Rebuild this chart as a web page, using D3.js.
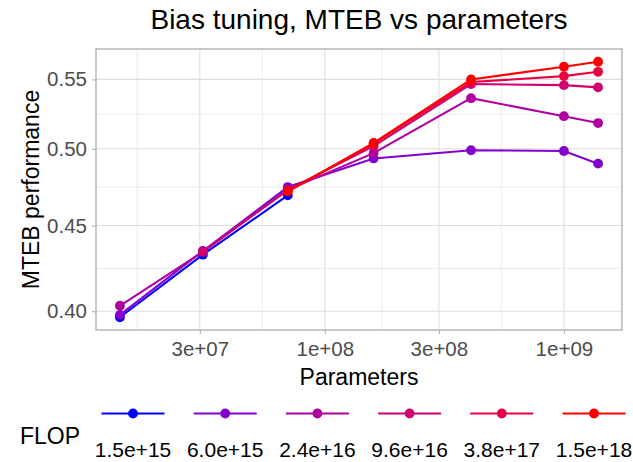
<!DOCTYPE html>
<html>
<head>
<meta charset="utf-8">
<script src="https://cdn.jsdelivr.net/npm/d3@7"></script>
<style>
  body { margin: 0; background: #fff; }
  text { font-family: "Liberation Sans", Arial, sans-serif; }
</style>
</head>
<body>
<svg id="chart" width="633" height="462"></svg>
<script>
// model sizes (parameters) used in the sweep
const params = [1.39e7, 3.09e7, 7.0e7, 1.6e8, 4.09e8, 1.0e9, 1.39e9];

// FLOP budgets, one line each
const flopLabels = ["1.5e+15", "6.0e+15", "2.4e+16", "9.6e+16", "3.8e+17", "1.5e+18"];

// MTEB score per budget, null where that size was not trained
const perf15e15 = [0.3967, 0.4323, 0.469, null, null, null, null];
const perf6e15 = [0.398, 0.4345, 0.4744, 0.4934, 0.499, 0.4985, 0.4899];
const perf24e16 = [0.403, 0.434, 0.4726, 0.497, 0.536, 0.5229, 0.518];
const perf96e16 = [null, 0.434, 0.4726, 0.5018, 0.5465, 0.5457, 0.544];
const perf38e17 = [null, null, 0.4718, 0.5035, 0.548, 0.5525, 0.5558];
const perf15e18 = [null, null, 0.4714, 0.504, 0.55, 0.5597, 0.5635];

const xTicks = [3e7, 1e8, 3e8, 1e9];
const xTickLabels = ["3e+07", "1e+08", "3e+08", "1e+09"];
const yTicks = [0.40, 0.45, 0.50, 0.55];

const seriesValues = [perf15e15, perf6e15, perf24e16, perf96e16, perf38e17, perf15e18];

const svg = d3.select("#chart"),
  width = +svg.attr("width"),
  height = +svg.attr("height");

const margin = { top: 49, right: 11, bottom: 132, left: 96 };
const pw = width - margin.left - margin.right,
  ph = height - margin.top - margin.bottom;

const series = flopLabels.map((label, i) => ({
  label,
  points: params
    .map((p, j) => ({ x: p, y: seriesValues[i][j] }))
    .filter((d) => d.y != null),
}));

const allPts = series.flatMap((s) => s.points);

// ggplot-like 5% expansion in log space
function expandLog(ext) {
  const a = Math.log(ext[0]), b = Math.log(ext[1]);
  const pad = (b - a) * 0.05;
  return [Math.exp(a - pad), Math.exp(b + pad)];
}

const xScale = d3.scaleLog()
  .domain(expandLog(d3.extent(allPts, (d) => d.x)))
  .range([0, pw]);

const yScale = d3.scaleLog()
  .domain(expandLog(d3.extent(allPts, (d) => d.y)))
  .range([ph, 0]);

// minor breaks: midpoints between majors in log space, plus one step outside
function minorBreaks(ticks) {
  const lt = ticks.map(Math.log);
  const m = [];
  m.push(Math.exp(lt[0] - (lt[1] - lt[0]) / 2));
  for (let i = 0; i < lt.length - 1; i++) m.push(Math.exp((lt[i] + lt[i + 1]) / 2));
  const n = lt.length;
  m.push(Math.exp(lt[n - 1] + (lt[n - 1] - lt[n - 2]) / 2));
  return m;
}

const color = d3.scaleSequential()
  .domain([0, flopLabels.length - 1])
  .interpolator(d3.interpolateLab("#0000FF", "#FF0000"));

const g = svg.append("g").attr("transform", `translate(${margin.left},${margin.top})`);

const inX = (v) => xScale(v) >= 0 && xScale(v) <= pw;
const inY = (v) => yScale(v) >= 0 && yScale(v) <= ph;

// grid
g.selectAll(".xminor").data(minorBreaks(xTicks).filter(inX)).enter().append("line")
  .attr("x1", (d) => xScale(d)).attr("x2", (d) => xScale(d))
  .attr("y1", 0).attr("y2", ph)
  .attr("stroke", "#DEDEDE").attr("stroke-width", 0.6);
g.selectAll(".yminor").data(minorBreaks(yTicks).filter(inY)).enter().append("line")
  .attr("y1", (d) => yScale(d)).attr("y2", (d) => yScale(d))
  .attr("x1", 0).attr("x2", pw)
  .attr("stroke", "#DEDEDE").attr("stroke-width", 0.6);
g.selectAll(".xmajor").data(xTicks).enter().append("line")
  .attr("x1", (d) => xScale(d)).attr("x2", (d) => xScale(d))
  .attr("y1", 0).attr("y2", ph)
  .attr("stroke", "#DEDEDE").attr("stroke-width", 1.1);
g.selectAll(".ymajor").data(yTicks).enter().append("line")
  .attr("y1", (d) => yScale(d)).attr("y2", (d) => yScale(d))
  .attr("x1", 0).attr("x2", pw)
  .attr("stroke", "#DEDEDE").attr("stroke-width", 1.1);

// axes
const xAxis = g.append("g")
  .attr("transform", `translate(0,${ph})`)
  .call(d3.axisBottom(xScale).tickValues(xTicks).tickFormat((d, i) => xTickLabels[i]).tickSize(4).tickPadding(7));
const yAxis = g.append("g")
  .call(d3.axisLeft(yScale).tickValues(yTicks).tickFormat(d3.format(".2f")).tickSize(4).tickPadding(5));

[xAxis, yAxis].forEach((ax) => {
  ax.select(".domain").remove();
  ax.selectAll(".tick line").attr("stroke", "#B3B3B3").attr("stroke-width", 1.1);
  ax.selectAll(".tick text").attr("fill", "#4D4D4D").style("font-size", "20.5px")
    .style("font-family", '"Liberation Sans", Arial, sans-serif');
});

// lines and points
const line = d3.line().x((d) => xScale(d.x)).y((d) => yScale(d.y));

series.forEach((s, i) => {
  g.append("path")
    .datum(s.points)
    .attr("fill", "none")
    .attr("stroke", color(i))
    .attr("stroke-width", 2.1)
    .attr("d", line);
  g.selectAll(null).data(s.points).enter().append("circle")
    .attr("cx", (d) => xScale(d.x))
    .attr("cy", (d) => yScale(d.y))
    .attr("r", 4.9)
    .attr("fill", color(i));
});

// panel border
g.append("rect")
  .attr("width", pw).attr("height", ph)
  .attr("fill", "none").attr("stroke", "#B3B3B3").attr("stroke-width", 1.4);

// titles
svg.append("text")
  .attr("x", margin.left + pw / 2).attr("y", 29)
  .attr("text-anchor", "middle").style("font-size", "28px").attr("fill", "#000")
  .text("Bias tuning, MTEB vs parameters");

svg.append("text")
  .attr("x", margin.left + pw / 2).attr("y", 385)
  .attr("text-anchor", "middle").style("font-size", "23px").attr("fill", "#000")
  .text("Parameters");

svg.append("text")
  .attr("transform", `translate(39,${margin.top + ph / 2}) rotate(-90)`)
  .attr("text-anchor", "middle").style("font-size", "23px").attr("fill", "#000")
  .text("MTEB performance");

// legend
const legend = svg.append("g");
legend.append("text")
  .attr("x", 20).attr("y", 444)
  .style("font-size", "23px").attr("fill", "#000")
  .text("FLOP");

const keyX = d3.scalePoint().domain(flopLabels).range([133, 594]);
flopLabels.forEach((label, i) => {
  const cx = keyX(label);
  legend.append("line")
    .attr("x1", cx - 31.5).attr("x2", cx + 31.5)
    .attr("y1", 413.5).attr("y2", 413.5)
    .attr("stroke", color(i)).attr("stroke-width", 2.1);
  legend.append("circle")
    .attr("cx", cx).attr("cy", 413.5).attr("r", 4.9)
    .attr("fill", color(i));
  legend.append("text")
    .attr("x", cx).attr("y", 456.5)
    .attr("text-anchor", "middle").style("font-size", "21px").attr("fill", "#000")
    .text(label);
});
</script>
</body>
</html>
